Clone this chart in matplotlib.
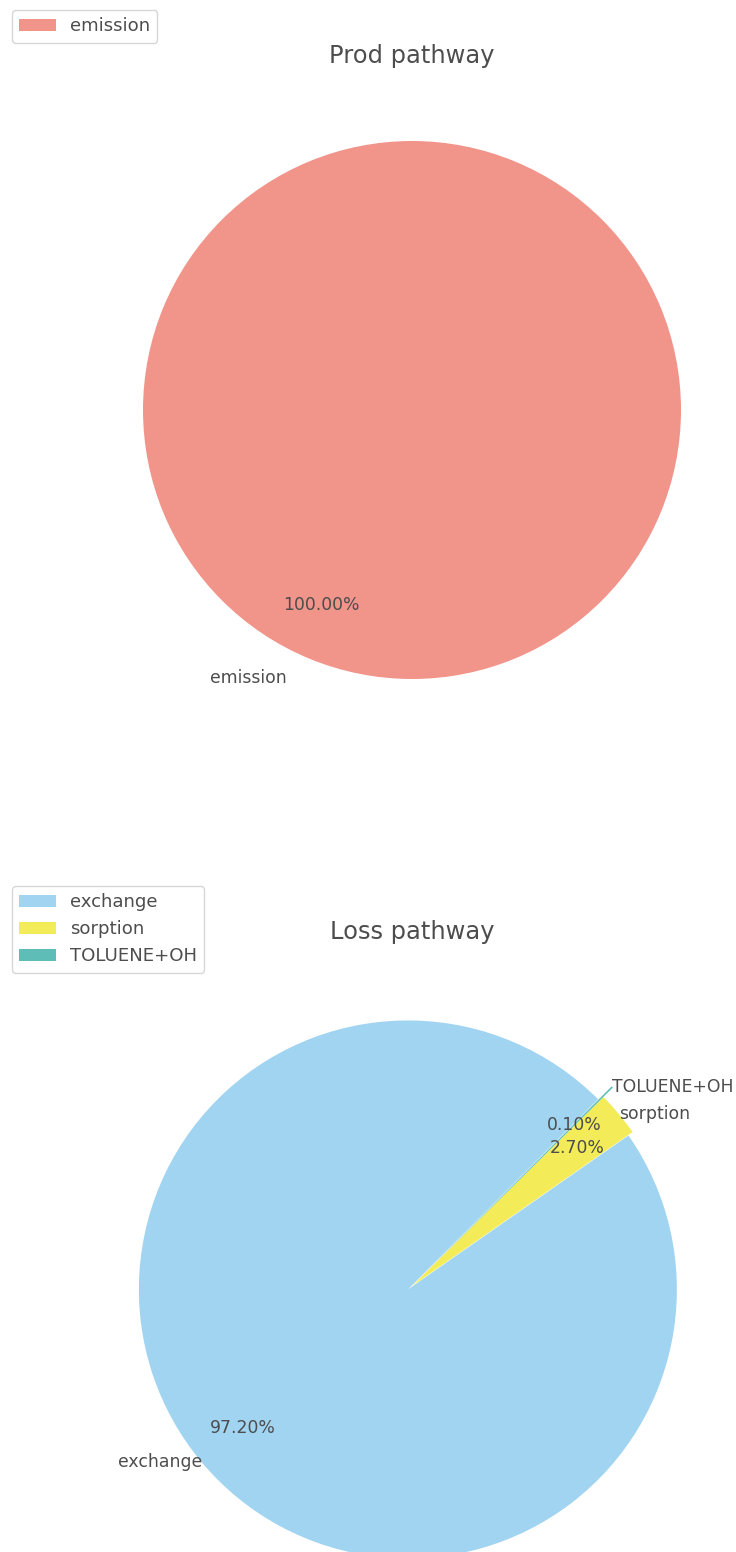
import matplotlib
matplotlib.use("Agg")
import matplotlib.pyplot as plt

# data
prod_labels = ["emission"]
prod_values = [100.0]
prod_colors = ["#F1948A"]

loss_labels = ["exchange", "sorption", "TOLUENE+OH"]
loss_values = [97.2, 2.7, 0.1]
loss_colors = ["#A0D4F1", "#F3EC58", "#5EBDB6"]
loss_explode = [0.02, 0.0, 0.05]

TEXT = "#4d4d4d"
plt.rcParams["font.family"] = ["DejaVu Sans"]
plt.rcParams["text.color"] = TEXT

W, H = 736, 1552
fig = plt.figure(figsize=(W / 100, H / 100), dpi=100)

R = 269.0          # pie radius in pixels
HALF = 1.25 * R    # axes half size (pie default limits)


def make_ax(cx, cy):
    # cx, cy: pie centre in pixels from top-left
    left = (cx - HALF) / W
    bottom = 1 - (cy + HALF) / H
    return fig.add_axes([left, bottom, 2 * HALF / W, 2 * HALF / H])


ax1 = make_ax(412, 410)
ax1.pie(prod_values, labels=prod_labels, colors=prod_colors,
        autopct="%.2f%%", startangle=65, labeldistance=1.1, pctdistance=0.8,
        textprops={"fontsize": 12.4, "color": TEXT})
ax1.set_xlim(-1.25, 1.25)
ax1.set_ylim(-1.25, 1.25)
ax1.set_title("Prod pathway", fontsize=17.4, color=TEXT, pad=8.0)
ax1.legend(loc="upper left", bbox_to_anchor=(12 / W, 1 - 10 / H),
           bbox_transform=fig.transFigure, borderaxespad=0, fontsize=13.05)

ax2 = make_ax(412, 1286)
ax2.pie(loss_values, labels=loss_labels, colors=loss_colors, explode=loss_explode,
        autopct="%.2f%%", startangle=45, labeldistance=1.0, pctdistance=0.8,
        textprops={"fontsize": 12.4, "color": TEXT})
ax2.set_xlim(-1.25, 1.25)
ax2.set_ylim(-1.25, 1.25)
ax2.set_title("Loss pathway", fontsize=17.4, color=TEXT, pad=8.0)
ax2.legend(loc="upper left", bbox_to_anchor=(12 / W, 1 - 886 / H),
           bbox_transform=fig.transFigure, borderaxespad=0, fontsize=13.05)

fig.savefig("out.png", dpi=100)
